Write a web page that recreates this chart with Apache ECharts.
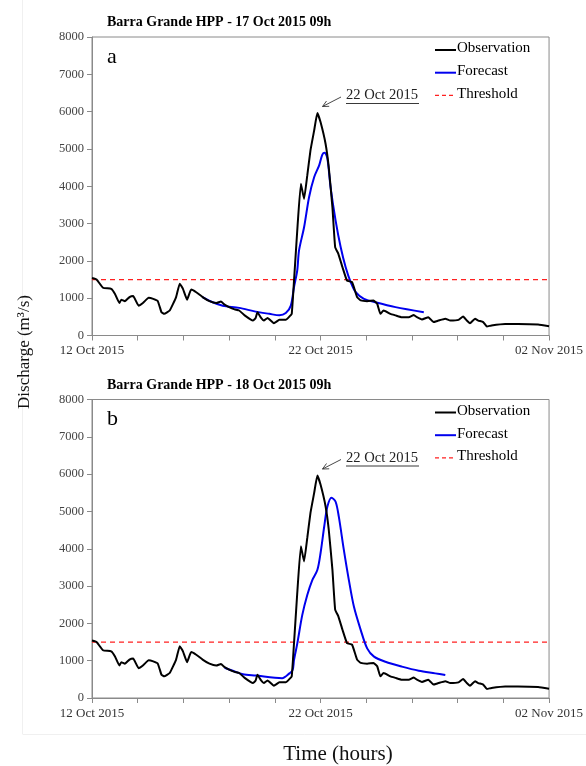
<!DOCTYPE html>
<html><head><meta charset="utf-8">
<script src="https://cdn.jsdelivr.net/npm/echarts@6/dist/echarts.min.js"></script>
<style>html,body{margin:0;padding:0;background:#fff}#c{width:586px;height:766px}</style>
</head><body><div id="c"></div>
<script>
// ---- data (x in hours from 12 Oct 2015) ----
const obsHours = [0,5,12,21,25,30,32,36,41,45,51,56,62,67,72,76,79,85,92,96,99.5,104,108.5,114,121,128.5,136,141,145,150,156,161,167,176,179,181,185,188,192,199,205,212,216,218.5,221,224.5,228.5,232,235.5,239,243,246.5,250,255.5,259,263,266,269.5,274,279,284.5,290,294,301,308,312,315.5,319,326.5,332,339,346.5,352,355.5,361,368,373.5,379,386.5,392,401,406,410,413.5,419,422.5,428,432,437,452,466,488,500];
const obsValues = [1540,1500,1280,1250,1120,870,960,920,1030,1060,800,880,1010,980,920,625,580,670,1030,1390,1250,960,1230,1160,1030,920,870,910,830,760,700,670,540,400,470,625,470,400,470,330,420,420,510,580,1470,2800,4070,3660,4290,4960,5490,5960,5720,5140,4510,3440,2370,2190,1830,1470,1430,1030,940,920,940,850,580,670,580,540,490,490,550,490,430,490,360,400,450,400,420,510,400,330,450,400,360,240,270,310,310,295,250];
const fcAHours = [121,132,143,161,179,194,205,212,217.5,221,224.5,226.5,232,237.5,243,248.5,252,254.5,257.5,261,266.5,272,277.5,283,288.5,297.5,310,332,363];
const fcAValues = [1030,890,800,740,640,580,540,600,800,1300,1740,2280,2900,3710,4240,4560,4850,4900,4740,3970,3080,2370,1830,1430,1160,980,890,760,625];
const fcBHours = [145,154,165,179,208,216,219.5,221,224.5,230,235.5,241,246.5,250,254,257.5,262,266.5,270,275.5,281,286.5,294,301,308.5,321,339,357.5,375.5,386.5];
const fcBValues = [810,730,635,600,530,660,750,1020,1450,2220,2760,3160,3430,3880,4590,5130,5370,5260,4860,3970,3160,2450,1820,1330,1110,970,840,730,660,615];
const thresholdHours = [0,500];
const thresholdValues = [1500,1500];
const xTickLabels = {0:'12 Oct 2015',250:'22 Oct 2015',500:'02 Nov 2015'};
const panelTitles = ['Barra Grande HPP - 17 Oct 2015 09h','Barra Grande HPP - 18 Oct 2015 09h'];
const panelLetters = ['a','b'];
const peakLabel = '22 Oct 2015';
const legendNames = ['Observation','Forecast','Threshold'];

const zip = (a,b)=>a.map((h,i)=>[h,b[i]]);
const FONT = '"Liberation Serif", "DejaVu Serif", serif';
const panelTop = [37, 399.5];
const panelH = 298.5;

const chart = echarts.init(document.getElementById('c'), null, {renderer:'canvas'});

const grids = panelTop.map(t=>({left:92, top:t, width:459, height:panelH, show:true, borderColor:'#8a8a8a', borderWidth:1, backgroundColor:'transparent'}));
const xAxes = [0,1].map(i=>({
  type:'value', gridIndex:i, min:0, max:500, interval:50,
  axisLine:{show:true, lineStyle:{color:'#8a8a8a', width:1}},
  axisTick:{show:true, length:5, lineStyle:{color:'#8a8a8a'}},
  splitLine:{show:false},
  axisLabel:{margin:9, fontFamily:FONT, fontSize:13, color:'#333', showMinLabel:true, showMaxLabel:true,
    formatter:v=> xTickLabels[v] || ''}
}));
const yAxes = [0,1].map(i=>({
  type:'value', gridIndex:i, min:0, max:8000, interval:1000,
  axisLine:{show:true, lineStyle:{color:'#8a8a8a', width:1}},
  axisTick:{show:true, length:5, lineStyle:{color:'#8a8a8a'}},
  splitLine:{show:false},
  axisLabel:{margin:8, fontFamily:FONT, fontSize:12.5, color:'#444', formatter:v=>String(v)}
}));

const series = [];
[[fcAHours,fcAValues],[fcBHours,fcBValues]].forEach((fc,i)=>{
  series.push({name:'Threshold', type:'line', xAxisIndex:i, yAxisIndex:i, data:zip(thresholdHours,thresholdValues), symbol:'none',
    lineStyle:{color:'#ff2020', width:1.3, type:[5,4]}, silent:true, z:1});
  series.push({name:'Forecast', type:'line', xAxisIndex:i, yAxisIndex:i, data:zip(fc[0],fc[1]), symbol:'none', smooth:0.3,
    lineStyle:{color:'#0000ee', width:2}, silent:true, z:2});
  series.push({name:'Observation', type:'line', xAxisIndex:i, yAxisIndex:i, data:zip(obsHours,obsValues), symbol:'none', smooth:0.12,
    lineStyle:{color:'#000', width:2}, silent:true, z:3});
});

const graphic = [];
panelTop.forEach((t,i)=>{
  const off = t - 37;
  graphic.push({type:'text', left:107, top:15.5+off, style:{text:panelTitles[i], font:'bold 14px '+FONT, fill:'#000'}});
  graphic.push({type:'text', left:107, top:46+off, style:{text:panelLetters[i], font:'22px '+FONT, fill:'#000'}});
  const legColors = ['#000','#0000ee','#ff2020'];
  legendNames.forEach((n,k)=>{
    const y = 50 + k*22.7 + off;
    graphic.push({type:'line', shape:{x1:435,y1:y,x2:456,y2:y}, style:{stroke:legColors[k], lineWidth: k==2?1.3:2, lineDash: k==2?[4,3]:null}});
    graphic.push({type:'text', left:457, top:y-9, style:{text:n, font:'15px '+FONT, fill:'#000'}});
  });
  graphic.push({type:'text', left:346, top:88+off, style:{text:peakLabel, font:'14.6px '+FONT, fill:'#222'}});
  graphic.push({type:'line', shape:{x1:346,y1:103.5+off,x2:419,y2:103.5+off}, style:{stroke:'#222', lineWidth:0.9}});
  graphic.push({type:'polyline', shape:{points:[[341,97+off],[322.5,106.5+off]]}, style:{stroke:'#333', lineWidth:0.9, fill:null}});
  graphic.push({type:'polyline', shape:{points:[[326.5,101+off],[322.5,106.5+off],[329.2,106.3+off]]}, style:{stroke:'#333', lineWidth:0.9, fill:null}});
});
graphic.push({type:'text', rotation:Math.PI/2, x:25, y:352, style:{text:'Discharge (m\u00b3/s)', font:'17px '+FONT, fill:'#111', textAlign:'center', textVerticalAlign:'middle'}});
graphic.push({type:'text', x:338, y:754, style:{text:'Time (hours)', font:'21px '+FONT, fill:'#111', textAlign:'center', textVerticalAlign:'middle'}});
graphic.push({type:'line', shape:{x1:22.5,y1:0,x2:22.5,y2:734}, style:{stroke:'#f0f0f0', lineWidth:1}, z:-10});
graphic.push({type:'line', shape:{x1:22.5,y1:734.5,x2:586,y2:734.5}, style:{stroke:'#f0f0f0', lineWidth:1}, z:-10});

chart.setOption({
  animation:false, backgroundColor:'#fff',
  grid:grids, xAxis:xAxes, yAxis:yAxes, series, graphic
});
</script></body></html>
